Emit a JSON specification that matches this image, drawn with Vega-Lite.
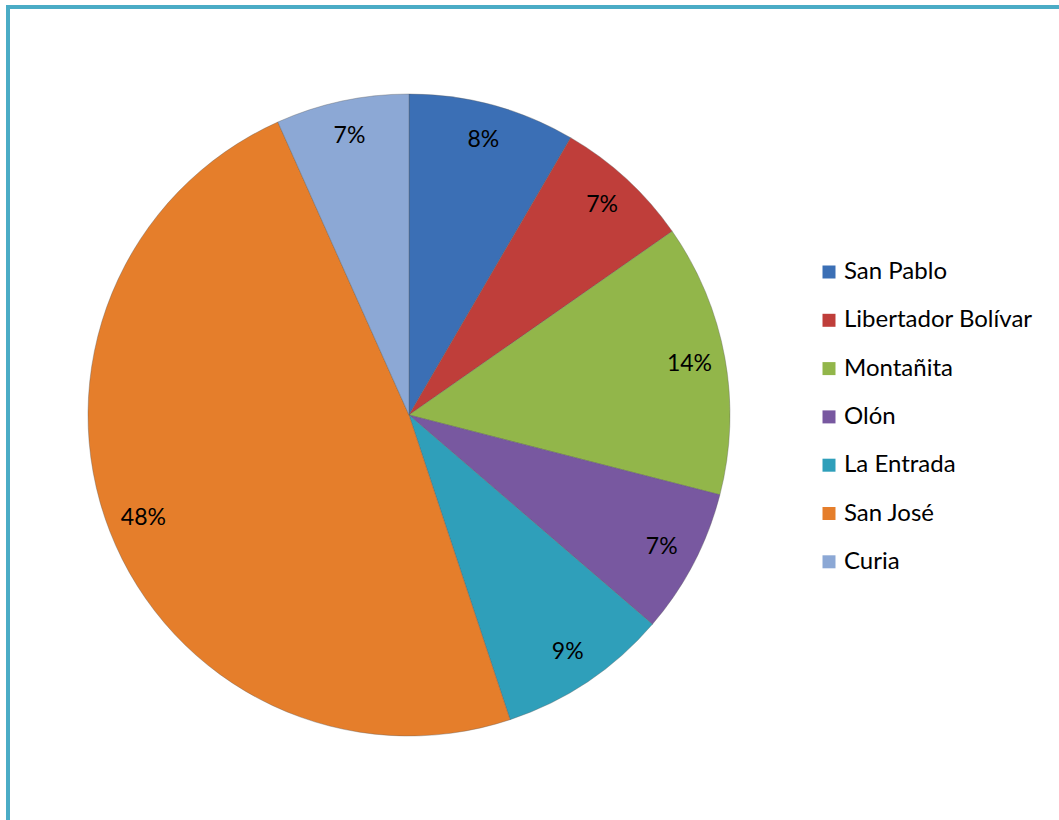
{
  "$schema": "https://vega.github.io/schema/vega-lite/v6.json",
  "width": 1100,
  "height": 860,
  "autosize": {"type": "none"},
  "padding": {"left": 8, "top": 7, "right": 0, "bottom": 0},
  "background": "white",
  "view": {"stroke": "#4BACC6", "strokeWidth": 4, "fill": "white"},
  "config": {
    "view": {"stroke": "#4BACC6", "strokeWidth": 4},
    "legend": {"padding": 0}
  },
  "data": {
    "values": [
      {"zona": "San Pablo", "share": 0.084, "ord": 1},
      {"zona": "Libertador Bolívar", "share": 0.069, "ord": 2},
      {"zona": "Montañita", "share": 0.137, "ord": 3},
      {"zona": "Olón", "share": 0.073, "ord": 4},
      {"zona": "La Entrada", "share": 0.086, "ord": 5},
      {"zona": "San José", "share": 0.484, "ord": 6},
      {"zona": "Curia", "share": 0.067, "ord": 7}
    ]
  },
  "encoding": {
    "theta": {"field": "share", "type": "quantitative", "stack": true},
    "order": {"field": "ord", "type": "quantitative"}
  },
  "layer": [
    {
      "mark": {"type": "arc", "outerRadius": 321, "x": 401, "y": 408, "stroke": "#5a5a5a", "strokeWidth": 0.6, "strokeOpacity": 0.6},
      "encoding": {
        "color": {
          "field": "zona",
          "type": "nominal",
          "scale": {
            "domain": ["San Pablo", "Libertador Bolívar", "Montañita", "Olón", "La Entrada", "San José", "Curia"],
            "range": ["#3B6FB5", "#BF3E3A", "#92B64A", "#7858A0", "#2F9FBA", "#E57E2B", "#8CA8D5"]
          },
          "legend": {
            "title": null,
            "orient": "none",
            "legendX": 809,
            "legendY": 253,
            "symbolType": "square",
            "symbolSize": 169,
            "symbolStrokeWidth": 0,
            "labelFont": "Lato",
            "labelFontSize": 24,
            "labelColor": "#000000",
            "labelOffset": 3,
            "rowPadding": 24.3,
            "labelLimit": 300
          }
        }
      }
    },
    {
      "mark": {"type": "text", "radius": 285, "x": 401, "y": 408, "font": "Lato", "fontSize": 23, "color": "#000000"},
      "encoding": {
        "text": {"field": "share", "type": "quantitative", "format": ".0%"}
      }
    }
  ]
}
